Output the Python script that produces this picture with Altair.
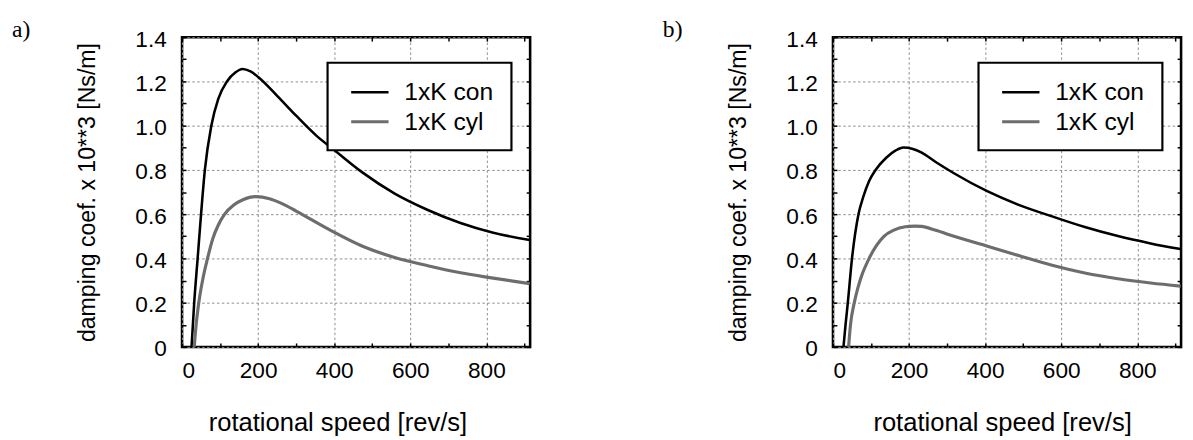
import altair as alt
import pandas as pd

FONT = "Liberation Sans"
SERIES = ["1xK con", "1xK cyl"]
SERIES_COLORS = ["#000000", "#6d6d6d"]
SERIES_WIDTHS = [2.6, 3.2]

X_TITLE = "rotational speed [rev/s]"
Y_TITLE = "damping coef. x 10**3  [Ns/m]"
X_MAJOR = [0, 200, 400, 600, 800]
Y_MAJOR = [0, 0.2, 0.4, 0.6, 0.8, 1.0, 1.2, 1.4]
X_MINOR = [0, 100, 200, 300, 400, 500, 600, 700, 800, 900]
Y_MINOR = [0, 0.1, 0.2, 0.3, 0.4, 0.5, 0.6, 0.7, 0.8, 0.9, 1.0, 1.1, 1.2, 1.3, 1.4]
X_MAX = 915
Y_MAX = 1.4

# panel a)
a_con_speed = [25, 32, 41, 50, 60, 77, 95, 118, 140, 159, 180, 200, 250, 300, 353, 400, 473, 559, 646, 732, 818, 914]
a_con_damp = [0.0, 0.2, 0.4, 0.6, 0.8, 1.0, 1.12, 1.2, 1.24, 1.256, 1.245, 1.22, 1.135, 1.045, 0.955, 0.89, 0.79, 0.693, 0.619, 0.56, 0.516, 0.483]
a_cyl_speed = [32, 37, 44, 55, 67, 81, 95, 112, 135, 160, 193, 230, 260, 301, 387, 473, 559, 646, 732, 818, 914]
a_cyl_damp = [0.0, 0.1, 0.2, 0.31, 0.4, 0.49, 0.55, 0.6, 0.64, 0.665, 0.679, 0.670, 0.650, 0.613, 0.530, 0.456, 0.404, 0.367, 0.335, 0.311, 0.286]

# panel b)
b_con_speed = [27.6, 33, 39, 50, 67, 80, 95, 112, 140, 165, 185, 210, 232, 270, 318, 404, 490, 576, 662, 749, 835, 914]
b_con_damp = [0.0, 0.1, 0.2, 0.4, 0.6, 0.68, 0.75, 0.8, 0.855, 0.888, 0.901, 0.895, 0.879, 0.836, 0.785, 0.705, 0.641, 0.59, 0.542, 0.501, 0.468, 0.442]
b_cyl_speed = [41, 46, 56, 66, 75, 95, 115, 134, 160, 190, 215, 232, 270, 318, 404, 490, 576, 662, 749, 835, 914]
b_cyl_damp = [0.0, 0.1, 0.2, 0.27, 0.32, 0.4, 0.46, 0.5, 0.528, 0.543, 0.546, 0.545, 0.527, 0.500, 0.456, 0.412, 0.369, 0.334, 0.308, 0.289, 0.275]

W, H = 354, 315
GRID_COLOR = "#8c8c8c"


def minor_axes(df, xsc, ysc, xorient, yorient):
    return alt.Chart(df).mark_point(opacity=0).encode(
        x=alt.X("speed:Q", scale=xsc, axis=alt.Axis(
            orient=xorient, values=X_MINOR, labels=False, domain=False, grid=False,
            ticks=True, tickSize=4, tickWidth=1.5, tickColor="black", offset=-4, title=None)),
        y=alt.Y("damping:Q", scale=ysc, axis=alt.Axis(
            orient=yorient, values=Y_MINOR, labels=False, domain=False, grid=False,
            ticks=True, tickSize=4, tickWidth=1.5, tickColor="black", offset=-4, title=None)),
    )


def panel(tag, con_x, con_y, cyl_x, cyl_y, title_x):
    rows = []
    for name, xs, ys in [(SERIES[0], con_x, con_y), (SERIES[1], cyl_x, cyl_y)]:
        for s, d in zip(xs, ys):
            rows.append({"series": name, "speed": s, "damping": d})
    df = pd.DataFrame(rows)
    xsc = alt.Scale(domain=[0, X_MAX], nice=False, zero=False)
    ysc = alt.Scale(domain=[0, Y_MAX], nice=False, zero=False)

    curves = alt.Chart(df).mark_line(interpolate="monotone", clip=True).encode(
        x=alt.X("speed:Q", scale=xsc, axis=alt.Axis(
            values=X_MAJOR, title=X_TITLE, titleX=title_x, titleY=85,
            titleAlign="center", titleBaseline="alphabetic", titleFontSize=26,
            labelFontSize=23, labelPadding=13, ticks=False, domain=False,
            grid=True, gridDash=[2.5, 2.5], gridColor=GRID_COLOR, gridWidth=1)),
        y=alt.Y("damping:Q", scale=ysc, axis=alt.Axis(
            values=Y_MAJOR, labelExpr="datum.value == 0 ? '0' : format(datum.value, '.1f')",
            title=Y_TITLE, titleX=-96, titleY=H / 2, titleAngle=270,
            titleAlign="center", titleBaseline="middle", titleFontSize=23.5,
            labelFontSize=23, labelPadding=16, labelOffset=2, ticks=False, domain=False,
            grid=True, gridDash=[2.5, 2.5], gridColor=GRID_COLOR, gridWidth=1)),
        color=alt.Color("series:N", scale=alt.Scale(domain=SERIES, range=SERIES_COLORS), legend=None),
        strokeWidth=alt.StrokeWidth("series:N", scale=alt.Scale(domain=SERIES, range=SERIES_WIDTHS), legend=None),
    )

    layers = [curves,
              minor_axes(df, xsc, ysc, "top", "right"),
              minor_axes(df, xsc, ysc, "bottom", "left")]

    box = alt.Chart(pd.DataFrame({"k": [0]})).mark_rect(
        fill="white", stroke="black", strokeWidth=2.2).encode(
        x=alt.value(148), x2=alt.value(335), y=alt.value(26), y2=alt.value(115))
    layers.append(box)
    for i, name in enumerate(SERIES):
        ldf = pd.DataFrame({"series": [name]})
        layers.append(alt.Chart(ldf).mark_rule(
            color=SERIES_COLORS[i], strokeWidth=SERIES_WIDTHS[i]).encode(
            x=alt.value(172), x2=alt.value(210), y=alt.value(56 + 30 * i)))
        layers.append(alt.Chart(ldf).mark_text(
            align="left", baseline="middle", fontSize=25, font=FONT, color="black").encode(
            text="series:N", x=alt.value(226), y=alt.value(56 + 30 * i)))

    tag_mark = alt.Chart(pd.DataFrame({"tag": [tag]})).mark_text(
        align="left", baseline="middle", fontSize=24, font="Liberation Serif", color="black").encode(
        text="tag:N", x=alt.value(-173), y=alt.value(-7))
    layers.append(tag_mark)

    return alt.layer(*layers).resolve_scale(x="independent", y="independent").properties(width=W, height=H)


panel_a = panel("a)", a_con_speed, a_con_damp, a_cyl_speed, a_cyl_damp, 158)
panel_b = panel("b)", b_con_speed, b_con_damp, b_cyl_speed, b_cyl_damp, 172)

chart = alt.hconcat(panel_a, panel_b, spacing=129).properties(
    padding={"left": 2, "top": 5, "right": 0, "bottom": 0}
).configure_view(
    stroke="black", strokeWidth=2.6
).configure_axis(
    labelFont=FONT, titleFont=FONT, labelColor="black", titleColor="black",
    titleFontWeight="normal"
)

chart.save("out.html", embed_options={"renderer": "svg", "actions": False})
